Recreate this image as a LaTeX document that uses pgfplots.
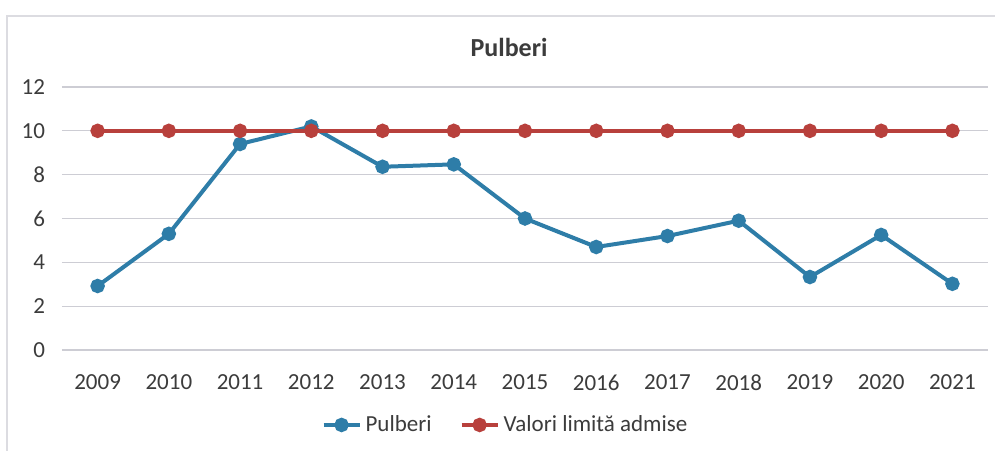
\documentclass[border=0pt]{standalone}
\usepackage{pgfplots}
\pgfplotsset{compat=1.18}
\usepackage{fontspec}
\setmainfont{Carlito}
\definecolor{pblue}{RGB}{46,125,168}
\definecolor{pred}{RGB}{184,64,60}
\definecolor{gridc}{RGB}{205,205,212}
\definecolor{txt}{RGB}{60,60,60}
\begin{document}
\begin{tikzpicture}[x=1pt,y=1pt]
\useasboundingbox (0,0) rectangle (497.5,225);
\fill[white] (0,0) rectangle (497.5,225);
\draw[gridc!70, line width=0.6pt] (3.5,-10) -- (3.5,217) -- (510,217);
\node[font=\fontsize{13}{15}\selectfont\bfseries, text=txt] at (254.5,201.5) {Pulberi};
\begin{axis}[
  at={(31pt,50pt)}, anchor=south west,
  scale only axis, width=463pt, height=131.5pt,
  xmin=-0.5, xmax=12.5, ymin=0, ymax=12,
  xtick={0,...,12},
  xticklabels={2009,2010,2011,2012,2013,2014,2015,2016,2017,2018,2019,2020,2021},
  ytick={0,2,4,6,8,10,12},
  axis line style={draw=none},
  major tick length=0pt,
  xmajorgrids=false,
  ymajorgrids=true, grid style={draw=gridc, line width=0.6pt},
  tick label style={font=\fontsize{11.5}{13}\selectfont, text=txt},
  /pgf/number format/assume math mode=true,
  xticklabel style={yshift=-9pt},
  yticklabel style={xshift=-5pt},
  legend style={at={(0.48,-0.285)}, anchor=center, draw=none, fill=none,
    legend columns=2, font=\fontsize{11.5}{13}\selectfont, text=txt,
    /tikz/every even column/.append style={column sep=12pt}},
  legend image code/.code={
    \draw[#1] (0pt,0pt) -- (18pt,0pt);
    \fill[#1] (9pt,0pt) circle (2.6pt);},
  clip=false,
]
\addplot[pblue, line width=2pt, mark=*, mark size=2.6pt, mark options={fill=pblue, draw=pblue}]
coordinates {(0,2.92) (1,5.3) (2,9.4) (3,10.2) (4,8.36) (5,8.47) (6,6.0) (7,4.7) (8,5.2) (9,5.9) (10,3.33) (11,5.25) (12,3.02)};
\addlegendentry{Pulberi}
\addplot[pred, line width=2pt, mark=*, mark size=2.6pt, mark options={fill=pred, draw=pred}]
coordinates {(0,10) (1,10) (2,10) (3,10) (4,10) (5,10) (6,10) (7,10) (8,10) (9,10) (10,10) (11,10) (12,10)};
\addlegendentry{Valori limită admise}
\end{axis}
\end{tikzpicture}
\end{document}
